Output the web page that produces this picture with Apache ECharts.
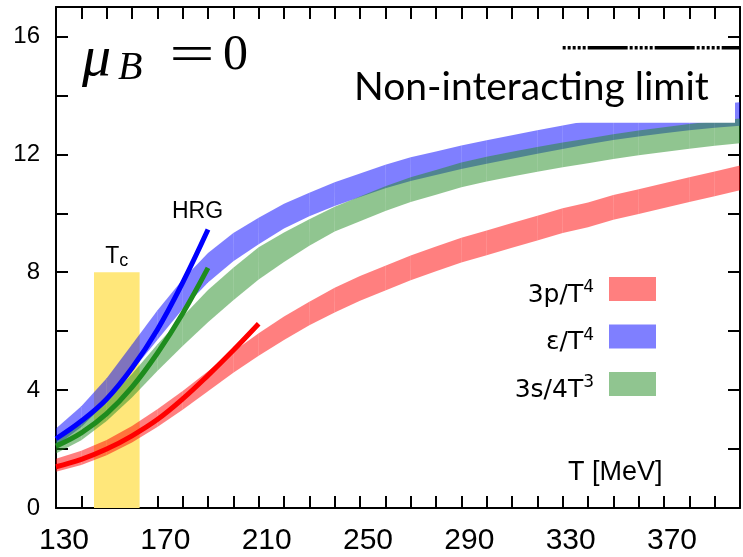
<!DOCTYPE html>
<html>
<head>
<meta charset="utf-8">
<script src="https://cdn.jsdelivr.net/npm/echarts@6/dist/echarts.min.js"></script>
<style>
  html, body { margin: 0; padding: 0; background: #ffffff; }
  #chart { width: 743px; height: 557px; }
</style>
</head>
<body>
<div id="chart"></div>
<script>
// Temperature grid of the lattice bands (MeV)
const temps = [130, 140, 150, 160, 170, 180, 190, 200, 210, 220, 230, 240, 250, 260,
               270, 280, 290, 300, 310, 320, 330, 340, 350, 360, 370, 380, 390, 400];

// 3p/T^4 band
const pressureLo = [1.23, 1.46, 1.79, 2.22, 2.75, 3.33, 3.96, 4.59, 5.17, 5.70, 6.20, 6.63, 7.03, 7.38,
                    7.73, 8.03, 8.33, 8.58, 8.83, 9.08, 9.33, 9.53, 9.78, 9.98, 10.18, 10.38, 10.58, 10.78];
const pressureHi = [1.67, 1.94, 2.31, 2.78, 3.35, 3.97, 4.64, 5.31, 5.93, 6.50, 7.00, 7.47, 7.87, 8.22,
                    8.57, 8.87, 9.17, 9.42, 9.67, 9.92, 10.17, 10.37, 10.62, 10.82, 11.02, 11.22, 11.42, 11.62];

// ε/T^4 band
const energyLo = [2.10, 2.75, 3.60, 4.65, 5.70, 6.75, 7.65, 8.37, 8.95, 9.48, 9.90, 10.25, 10.55, 10.85,
                  11.10, 11.30, 11.50, 11.68, 11.85, 12.02, 12.18, 12.34, 12.49, 12.61, 12.72, 12.82, 12.90, 12.97];
const energyHi = [2.70, 3.45, 4.40, 5.55, 6.70, 7.75, 8.65, 9.33, 9.85, 10.32, 10.70, 11.05, 11.35, 11.65,
                  11.90, 12.10, 12.30, 12.48, 12.65, 12.82, 12.98, 13.14, 13.29, 13.41, 13.52, 13.62, 13.70, 13.77];

// 3s/4T^3 band
const entropyLo = [1.85, 2.30, 2.95, 3.75, 4.65, 5.50, 6.30, 7.05, 7.75, 8.35, 8.90, 9.38, 9.73, 10.08,
                   10.38, 10.63, 10.88, 11.08, 11.25, 11.41, 11.56, 11.70, 11.84, 11.97, 12.08, 12.19, 12.29, 12.38];
const entropyHi = [2.35, 2.90, 3.65, 4.55, 5.55, 6.50, 7.40, 8.15, 8.85, 9.35, 9.80, 10.22, 10.57, 10.92,
                   11.22, 11.47, 11.72, 11.92, 12.09, 12.25, 12.40, 12.54, 12.68, 12.81, 12.92, 13.03, 13.13, 13.22];

// Hadron resonance gas curves
const hrgTemps = [130, 140, 150, 160, 170, 180, 190, 200, 210];
const hrgEnergy = [2.35, 2.95, 3.70, 4.75, 6.05, 7.65, 9.45];
const hrgEntropy = [2.10, 2.55, 3.20, 4.10, 5.25, 6.60, 8.15];
const hrgPressure = [1.40, 1.65, 2.00, 2.45, 3.00, 3.70, 4.50, 5.35, 6.25];

// Crossover temperature window and Stefan-Boltzmann limit
const tcRange = [145, 163];
const tcTop = 8;
const sbTemps = [330, 400];
const sbLimit = 15.62;

// Axis ticks
const xMin = 130, xMax = 400, xStep = 10, xLabelStep = 40;
const yMin = 0, yMax = 17, yStep = 2, yLabelStep = 4;

const bandNames = ['3p/T4', 'ε/T4', '3s/4T3'];
const legendText = {
  '3p/T4': '3p/T{sup|4}',
  'ε/T4': 'ε/T{sup|4}',
  '3s/4T3': '3s/4T{sup|3}'
};

function pairs(xs, ys) {
  return ys.map((y, i) => [xs[i], y]);
}

// Each band is drawn as a chain of quads between neighbouring temperatures
function band(name, lo, hi, color) {
  return {
    type: 'custom',
    name: name,
    z: 2,
    silent: true,
    clip: true,
    itemStyle: { color: color },
    data: temps.map((t, i) => [t, lo[i], hi[i]]),
    encode: { x: 0, y: [1, 2] },
    renderItem: function (params, api) {
      const i = params.dataIndex;
      if (i >= temps.length - 1) return null;
      const pts = [
        api.coord([temps[i], lo[i]]),
        api.coord([temps[i + 1], lo[i + 1]]),
        api.coord([temps[i + 1], hi[i + 1]]),
        api.coord([temps[i], hi[i]])
      ];
      return { type: 'polygon', shape: { points: pts }, style: { fill: color } };
    }
  };
}

function hrgLine(values, color) {
  return {
    type: 'line',
    z: 3,
    silent: true,
    smooth: 0.4,
    showSymbol: false,
    data: pairs(hrgTemps, values),
    lineStyle: { color: color, width: 5 },
    itemStyle: { color: color }
  };
}

const tickStyle = { color: '#000', width: 2 };

const chart = echarts.init(document.getElementById('chart'));
chart.setOption({
  animation: false,
  backgroundColor: '#ffffff',
  grid: { left: 56, top: 7, width: 691, height: 501, containLabel: false },
  xAxis: [
    {
      type: 'value', position: 'bottom', min: xMin, max: xMax, interval: xStep,
      axisLine: { onZero: false, lineStyle: tickStyle },
      axisTick: { inside: true, length: 12, lineStyle: tickStyle },
      splitLine: { show: false },
      axisLabel: {
        margin: 18,
        color: '#000',
        fontFamily: "'Liberation Sans Narrow', 'Liberation Sans', sans-serif",
        fontSize: 30,
        padding: [0, 0, 0, 16],
        formatter: v => ((v - xMin) % xLabelStep === 0 && v < xMax ? String(v) : '')
      }
    },
    {
      type: 'value', position: 'top', min: xMin, max: xMax, interval: xStep,
      axisLine: { onZero: false, lineStyle: tickStyle },
      axisTick: { inside: true, length: 12, lineStyle: tickStyle },
      splitLine: { show: false },
      axisLabel: { show: false }
    }
  ],
  yAxis: [
    {
      type: 'value', position: 'left', min: yMin, max: yMax, interval: yStep,
      axisLine: { show: true, onZero: false, lineStyle: tickStyle },
      axisTick: { show: true, inside: true, length: 12, lineStyle: tickStyle },
      splitLine: { show: false },
      axisLabel: {
        margin: 16,
        color: '#000',
        fontFamily: "'Liberation Sans', Arial, sans-serif",
        fontSize: 24,
        padding: [16, 0, 0, 0],
        formatter: v => (v % yLabelStep === 0 && v < yMax ? String(v) : '')
      }
    },
    {
      type: 'value', position: 'right', min: yMin, max: yMax, interval: yStep,
      axisLine: { show: true, onZero: false, lineStyle: tickStyle },
      axisTick: { show: true, inside: true, length: 12, lineStyle: tickStyle },
      splitLine: { show: false },
      axisLabel: { show: false }
    }
  ],
  legend: {
    orient: 'vertical',
    right: 82,
    top: 272,
    align: 'right',
    icon: 'rect',
    itemWidth: 47,
    itemHeight: 24,
    itemGap: 17,
    selectedMode: false,
    data: bandNames,
    formatter: name => legendText[name],
    textStyle: {
      color: '#000',
      fontFamily: "'DejaVu Sans', sans-serif",
      fontSize: 25,
      padding: [12, 10, 0, 0],
      rich: {
        sup: { fontSize: 17, fontFamily: "'DejaVu Sans', sans-serif", color: '#000', padding: [0, 0, 14, 0] }
      }
    }
  },
  series: [
    Object.assign(band(bandNames[0], pressureLo, pressureHi, 'rgba(255,0,0,0.5)'), {
      markArea: {
        silent: true,
        itemStyle: { color: '#FFE77A', opacity: 1 },
        label: {
          show: true,
          position: 'top',
          distance: 2,
          color: '#000',
          formatter: '{t|T}{c|c}',
          rich: {
            t: { fontSize: 23, fontFamily: "'Liberation Sans', sans-serif", color: '#000' },
            c: { fontSize: 18, fontFamily: "'Liberation Sans', sans-serif", color: '#000', padding: [10, 0, 0, 0] }
          }
        },
        data: [[{ coord: [tcRange[0], 0] }, { coord: [tcRange[1], tcTop] }]]
      }
    }),
    band(bandNames[1], energyLo, energyHi, 'rgba(0,0,255,0.5)'),
    band(bandNames[2], entropyLo, entropyHi, 'rgba(34,139,34,0.5)'),
    hrgLine(hrgPressure, '#ff0000'),
    hrgLine(hrgEnergy, '#0000ff'),
    hrgLine(hrgEntropy, '#1e8c1e'),
    {
      type: 'line',
      z: 60,
      silent: true,
      showSymbol: false,
      data: sbTemps.map(t => [t, sbLimit]),
      lineStyle: { color: '#000', width: 3.5, type: [3, 2, 3, 2, 3, 2, 3, 2, 3, 2, 40, 2] }
    }
  ],
  graphic: [
    { type: 'rect', z: 50, shape: { x: 340, y: 50, width: 395, height: 72.7 }, style: { fill: '#ffffff' } },
    { type: 'text', z: 51, x: 354, y: 87,
      style: { text: 'Non-interacting limit', font: "39px Lato, 'Open Sans', sans-serif", fill: '#000', align: 'left', verticalAlign: 'middle' } },
    { type: 'text', z: 51, x: 82, y: 60,
      style: { text: 'μ', font: "italic 58px 'Liberation Serif', serif", fill: '#000', align: 'left', verticalAlign: 'middle' } },
    { type: 'text', z: 51, x: 118, y: 68,
      style: { text: 'B', font: "italic 40px 'Liberation Serif', serif", fill: '#000', align: 'left', verticalAlign: 'middle' } },
    { type: 'text', z: 51, x: 192, y: 57, scaleX: 1.55,
      style: { text: '=', font: "52px 'Liberation Serif', serif", fill: '#000', align: 'center', verticalAlign: 'middle' } },
    { type: 'text', z: 51, x: 235.5, y: 56,
      style: { text: '0', font: "50px 'Liberation Serif', serif", fill: '#000', align: 'center', verticalAlign: 'middle' } },
    { type: 'text', z: 51, x: 172, y: 212,
      style: { text: 'HRG', font: "23px 'Liberation Sans', sans-serif", fill: '#000', align: 'left', verticalAlign: 'middle' } },
    { type: 'text', z: 51, x: 568, y: 473,
      style: { text: 'T [MeV]', font: "27px 'Liberation Sans', sans-serif", fill: '#000', align: 'left', verticalAlign: 'middle' } }
  ]
});
</script>
</body>
</html>
